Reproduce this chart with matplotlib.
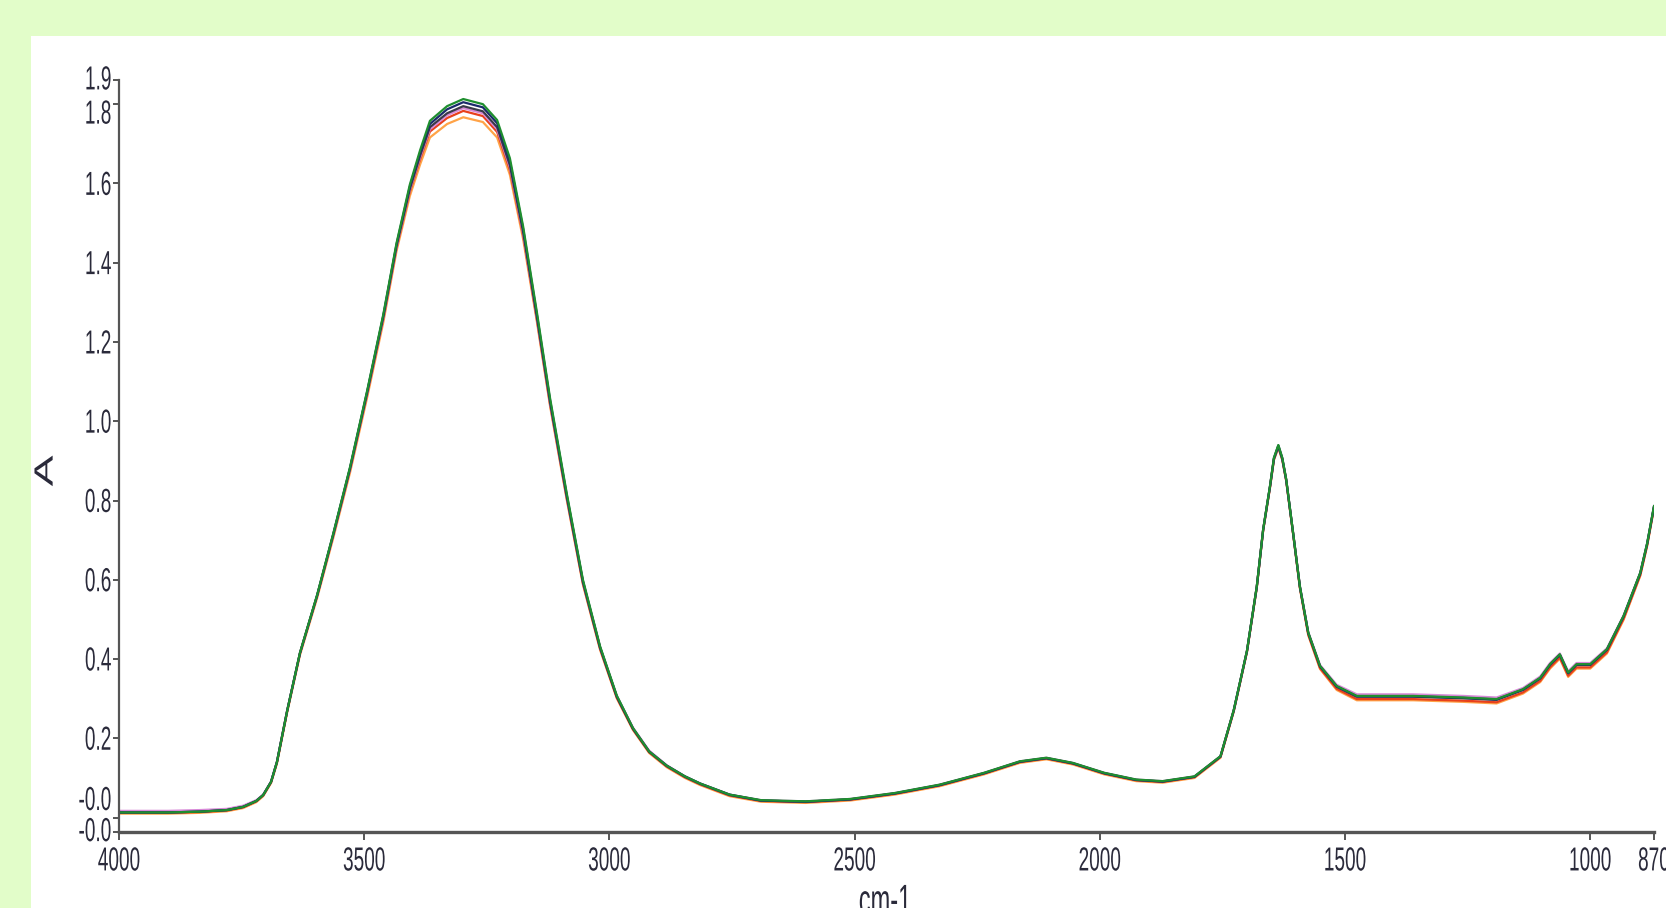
import matplotlib
matplotlib.use("Agg")
import matplotlib.pyplot as plt
from matplotlib.patches import Rectangle
from matplotlib.transforms import ScaledTranslation, Affine2D
from matplotlib.patheffects import AbstractPathEffect

plt.rcParams['font.family'] = ['Liberation Sans', 'DejaVu Sans']

# ---- data ----
wavenumber = [4000, 3900, 3835, 3780, 3747, 3720, 3706, 3690, 3678, 3657,
              3631, 3596, 3563, 3529, 3494, 3461, 3434, 3407, 3386, 3366,
              3331, 3298, 3258, 3229, 3203, 3176, 3148, 3121, 3087, 3054,
              3019, 2985, 2952, 2919, 2883, 2846, 2815, 2755, 2691, 2600,
              2509, 2418, 2327, 2236, 2163, 2109, 2055, 1991, 1926, 1872,
              1807, 1754, 1727, 1700, 1680, 1667, 1653, 1645, 1636, 1628,
              1620, 1605, 1592, 1575, 1551, 1517, 1476, 1361, 1259, 1191,
              1137, 1102, 1082, 1062, 1045, 1028, 1000, 966, 932, 898,
              884, 870]

spec_orange = [0.010, 0.010, 0.012, 0.016, 0.024, 0.039, 0.054, 0.087, 0.136, 0.266,
               0.410, 0.554, 0.706, 0.870, 1.060, 1.250, 1.430, 1.568, 1.648, 1.716,
               1.750, 1.767, 1.755, 1.716, 1.622, 1.460, 1.252, 1.038, 0.802, 0.588,
               0.423, 0.301, 0.221, 0.163, 0.127, 0.100, 0.082, 0.054, 0.040, 0.037,
               0.043, 0.058, 0.079, 0.109, 0.138, 0.147, 0.134, 0.109, 0.092, 0.088,
               0.100, 0.151, 0.267, 0.417, 0.579, 0.723, 0.832, 0.902, 0.933, 0.902,
               0.849, 0.706, 0.578, 0.460, 0.375, 0.322, 0.296, 0.296, 0.292, 0.288,
               0.313, 0.342, 0.376, 0.401, 0.355, 0.376, 0.376, 0.414, 0.499, 0.610,
               0.685, 0.780]

spec_red = [0.012, 0.012, 0.014, 0.018, 0.026, 0.041, 0.056, 0.089, 0.139, 0.269,
            0.414, 0.559, 0.712, 0.877, 1.068, 1.259, 1.438, 1.579, 1.661, 1.731,
            1.765, 1.783, 1.770, 1.730, 1.634, 1.470, 1.258, 1.043, 0.806, 0.591,
            0.426, 0.303, 0.223, 0.165, 0.129, 0.102, 0.084, 0.056, 0.042, 0.039,
            0.045, 0.060, 0.081, 0.111, 0.140, 0.149, 0.136, 0.111, 0.094, 0.090,
            0.102, 0.153, 0.269, 0.419, 0.581, 0.725, 0.834, 0.904, 0.935, 0.904,
            0.851, 0.708, 0.580, 0.462, 0.377, 0.325, 0.299, 0.299, 0.295, 0.291,
            0.316, 0.345, 0.379, 0.404, 0.358, 0.379, 0.379, 0.417, 0.502, 0.612,
            0.687, 0.782]

spec_pink = [0.017, 0.017, 0.019, 0.022, 0.030, 0.044, 0.058, 0.091, 0.141, 0.271,
             0.415, 0.560, 0.713, 0.879, 1.071, 1.262, 1.441, 1.583, 1.666, 1.737,
             1.772, 1.790, 1.777, 1.737, 1.641, 1.474, 1.262, 1.046, 0.809, 0.594,
             0.429, 0.307, 0.227, 0.169, 0.132, 0.104, 0.086, 0.058, 0.044, 0.041,
             0.047, 0.062, 0.083, 0.113, 0.142, 0.151, 0.138, 0.113, 0.096, 0.092,
             0.104, 0.155, 0.271, 0.420, 0.582, 0.726, 0.835, 0.905, 0.936, 0.905,
             0.852, 0.710, 0.584, 0.468, 0.385, 0.335, 0.311, 0.311, 0.307, 0.303,
             0.327, 0.356, 0.390, 0.414, 0.369, 0.390, 0.390, 0.427, 0.510, 0.618,
             0.692, 0.786]

spec_gray = [0.013, 0.013, 0.015, 0.019, 0.027, 0.042, 0.057, 0.090, 0.140, 0.270,
             0.415, 0.560, 0.714, 0.880, 1.072, 1.264, 1.443, 1.586, 1.670, 1.742,
             1.777, 1.795, 1.782, 1.742, 1.646, 1.478, 1.264, 1.048, 0.810, 0.594,
             0.428, 0.305, 0.224, 0.166, 0.130, 0.103, 0.085, 0.057, 0.043, 0.040,
             0.046, 0.061, 0.082, 0.112, 0.141, 0.150, 0.137, 0.112, 0.095, 0.091,
             0.103, 0.154, 0.270, 0.420, 0.582, 0.726, 0.835, 0.905, 0.936, 0.905,
             0.852, 0.709, 0.582, 0.465, 0.381, 0.330, 0.305, 0.305, 0.301, 0.297,
             0.322, 0.351, 0.385, 0.410, 0.364, 0.385, 0.385, 0.423, 0.507, 0.616,
             0.690, 0.784]

spec_navy = [0.013, 0.013, 0.015, 0.019, 0.027, 0.042, 0.057, 0.090, 0.140, 0.270,
             0.415, 0.561, 0.716, 0.882, 1.075, 1.267, 1.447, 1.592, 1.678, 1.750,
             1.787, 1.805, 1.792, 1.752, 1.656, 1.486, 1.270, 1.053, 0.814, 0.597,
             0.430, 0.306, 0.225, 0.167, 0.131, 0.104, 0.086, 0.058, 0.043, 0.040,
             0.046, 0.061, 0.082, 0.112, 0.141, 0.150, 0.137, 0.112, 0.095, 0.091,
             0.103, 0.154, 0.270, 0.420, 0.582, 0.726, 0.836, 0.907, 0.939, 0.907,
             0.853, 0.709, 0.582, 0.466, 0.382, 0.331, 0.306, 0.306, 0.302, 0.298,
             0.323, 0.352, 0.386, 0.411, 0.365, 0.386, 0.386, 0.424, 0.508, 0.617,
             0.691, 0.785]

spec_green = [0.013, 0.013, 0.015, 0.019, 0.027, 0.042, 0.057, 0.090, 0.140, 0.270,
              0.416, 0.562, 0.717, 0.884, 1.077, 1.270, 1.450, 1.597, 1.684, 1.758,
              1.795, 1.813, 1.800, 1.760, 1.664, 1.492, 1.276, 1.058, 0.818, 0.600,
              0.432, 0.308, 0.226, 0.167, 0.131, 0.104, 0.086, 0.058, 0.044, 0.041,
              0.047, 0.062, 0.083, 0.113, 0.142, 0.151, 0.138, 0.113, 0.096, 0.092,
              0.104, 0.155, 0.271, 0.421, 0.583, 0.727, 0.837, 0.908, 0.940, 0.908,
              0.854, 0.710, 0.583, 0.467, 0.383, 0.332, 0.307, 0.307, 0.303, 0.299,
              0.324, 0.353, 0.387, 0.412, 0.366, 0.387, 0.387, 0.425, 0.509, 0.618,
              0.692, 0.786]

series = [spec_orange, spec_red, spec_pink, spec_gray, spec_navy, spec_green]
colors = ['#ffa347', '#e8401c', '#d889d8', '#3a3a4a', '#1b2a6b', '#1f8f2f']

x_ticks = [4000, 3500, 3000, 2500, 2000, 1500, 1000, 870]
x_ticklabels = ['4000', '3500', '3000', '2500', '2000', '1500', '1000', '870']
y_min, y_max = -0.0356, 1.861
y_ticks = [y_min, 0.0, 0.2, 0.4, 0.6, 0.8, 1.0, 1.2, 1.4, 1.6, 1.8, y_max]
y_ticklabels = ['-0.0', '-0.0', '0.2', '0.4', '0.6', '0.8', '1.0', '1.2', '1.4', '1.6', '1.8', '1.9']


class Stretch(AbstractPathEffect):
    """Draw text glyphs stretched vertically (screen y) about their ink centre."""
    def __init__(self, sx=1.0, sy=1.0):
        super().__init__()
        self.sx, self.sy = sx, sy

    def draw_path(self, renderer, gc, tpath, affine, rgbFace=None):
        ext = tpath.get_extents(affine)
        cx = ext.x0 + ext.width / 2
        cy = ext.y0 + ext.height / 2
        new = affine + Affine2D().translate(-cx, -cy).scale(self.sx, self.sy).translate(cx, cy)
        renderer.draw_path(gc, tpath, new, rgbFace)


# ---- figure ----
W, H = 1666, 908
fig = plt.figure(figsize=(W / 100, H / 100), dpi=100)
fig.patch.set_facecolor('#e2fdc9')
fig.patches.append(Rectangle((31 / W, 0), 1 - 31 / W, (H - 36) / H,
                             transform=fig.transFigure, facecolor='white',
                             edgecolor='none', zorder=-10))

left, right = 119 / W, 1654 / W
bottom, top = (H - 831.7) / H, (H - 80) / H
ax = fig.add_axes([left, bottom, right - left, top - bottom])
ax.set_zorder(5)
ax.set_facecolor('none')

for s, c in zip(series, colors):
    ax.plot(wavenumber, s, color=c, lw=1.6, solid_joinstyle='round')

ax.set_xlim(4000, 870)
ax.set_ylim(y_min, y_max)

for sp in ['top', 'right']:
    ax.spines[sp].set_visible(False)
ax.spines['left'].set_color('#555555')
ax.spines['left'].set_linewidth(1.6)
ax.spines['bottom'].set_color('#555555')
ax.spines['bottom'].set_linewidth(2.4)

txtc = '#2a2a3a'
stretch = Stretch(1.0, 1.75)
ax.set_xticks(x_ticks)
ax.set_xticklabels(x_ticklabels, fontsize=13.7, color=txtc)
ax.set_yticks(y_ticks)
ax.set_yticklabels(y_ticklabels, fontsize=13.7, color=txtc)
ax.tick_params(axis='x', length=6, width=1.4, color='#555555', pad=9)
ax.tick_params(axis='y', length=4, width=1.4, color='#555555', pad=1.5)

for lab in ax.get_xticklabels() + ax.get_yticklabels():
    lab.set_path_effects([stretch])

# nudge crowded y tick labels like the reference
ylabels = ax.get_yticklabels()
ylabels[0].set_transform(ylabels[0].get_transform() + ScaledTranslation(0, 2 / 100, fig.dpi_scale_trans))
ylabels[1].set_transform(ylabels[1].get_transform() + ScaledTranslation(0, 19 / 100, fig.dpi_scale_trans))
ylabels[10].set_transform(ylabels[10].get_transform() + ScaledTranslation(0, -8 / 100, fig.dpi_scale_trans))
ylabels[11].set_transform(ylabels[11].get_transform() + ScaledTranslation(0, 2 / 100, fig.dpi_scale_trans))

xl = ax.set_xlabel('cm-1', fontsize=17, color=txtc, va='top')
ax.xaxis.set_label_coords(0.499, -0.078)
xl.set_path_effects([stretch])
yl = ax.set_ylabel('A', fontsize=19, color=txtc, va='center')
ax.yaxis.set_label_coords(-0.0478, 0.48)
yl.set_path_effects([stretch])

fig.savefig('out.png', dpi=100, facecolor=fig.get_facecolor())
